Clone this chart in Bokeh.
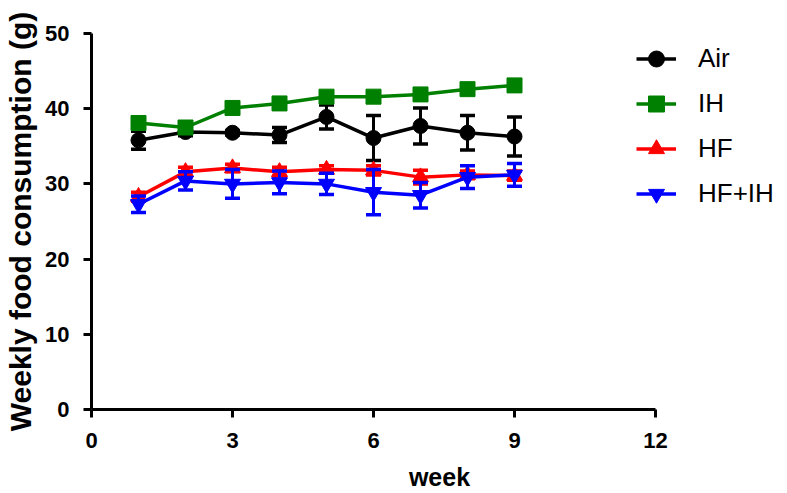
from bokeh.plotting import figure
from bokeh.models import ColumnDataSource, Legend, LegendItem, Range1d, FixedTicker
from bokeh.embed import file_html
from bokeh.resources import INLINE

weeks = [1, 2, 3, 4, 5, 6, 7, 8, 9]
air = [35.8, 36.9, 36.8, 36.5, 38.9, 36.1, 37.7, 36.8, 36.3]
air_err = [1.2, 0.5, 0.3, 1.0, 1.6, 3.0, 2.4, 2.3, 2.6]
ih = [38.1, 37.5, 40.1, 40.7, 41.6, 41.6, 41.9, 42.6, 43.1]
ih_err = [0.5, 0.6, 0.6, 0.5, 0.6, 0.5, 0.5, 0.5, 0.4]
hf = [28.3, 31.6, 32.1, 31.6, 31.9, 31.8, 30.9, 31.2, 31.1]
hf_err = [0.6, 0.6, 0.5, 0.6, 0.5, 0.6, 0.9, 0.5, 0.6]
hfih = [27.3, 30.4, 30.0, 30.2, 30.0, 28.9, 28.5, 30.9, 31.2]
hfih_err = [1.1, 1.2, 1.9, 1.5, 1.4, 3.0, 1.7, 1.5, 1.5]

series_names = ["Air", "IH", "HF", "HF+IH"]
series_vals = [air, ih, hf, hfih]
series_errs = [air_err, ih_err, hf_err, hfih_err]
series_colors = ["#000000", "#008000", "#FF0000", "#0000FF"]
series_markers = ["circle", "square", "triangle", "inverted_triangle"]
series_sizes = [15, 15, 16, 16]

x_ticks = [0, 3, 6, 9, 12]
y_ticks = [0, 10, 20, 30, 40, 50]

FONT = "Liberation Sans"

# frame spans 91..787 px horizontally; axis drawn only over 0..12 (47 px per week)
p = figure(width=787, height=493, output_backend="svg", toolbar_location=None,
           x_range=Range1d(0, 696 / 47.0), y_range=Range1d(0, 50),
           min_border_left=91, min_border_top=33, min_border_right=0, min_border_bottom=84)
p.outline_line_color = None
p.xgrid.grid_line_color = None
p.ygrid.grid_line_color = None

for ax in (p.xaxis[0], p.yaxis[0]):
    ax.axis_line_width = 3
    ax.axis_line_color = "black"
    ax.major_tick_line_width = 3
    ax.major_tick_out = 8
    ax.major_tick_in = 0
    ax.minor_tick_line_color = None
    ax.major_label_text_font = FONT
    ax.major_label_text_font_style = "bold"
    ax.major_label_text_font_size = "22px"
    ax.major_label_text_color = "black"
    ax.axis_label_text_font = FONT
    ax.axis_label_text_font_style = "bold"
    ax.axis_label_text_color = "black"

p.xaxis[0].ticker = FixedTicker(ticks=x_ticks)
p.xaxis[0].bounds = (0, 12)
p.yaxis[0].ticker = FixedTicker(ticks=y_ticks)
p.xaxis[0].axis_label = "week"
p.xaxis[0].axis_label_text_font_size = "25px"
p.xaxis[0].major_label_standoff = 15
p.xaxis[0].axis_label_standoff = 12
p.yaxis[0].axis_label = "Weekly food consumption (g)"
p.yaxis[0].axis_label_text_font_size = "30px"
p.yaxis[0].major_label_standoff = 14
p.yaxis[0].axis_label_standoff = 5

items = []
for name, vals, errs, col, mk, sz in zip(series_names, series_vals, series_errs,
                                          series_colors, series_markers, series_sizes):
    lo = [v - e for v, e in zip(vals, errs)]
    hi = [v + e for v, e in zip(vals, errs)]
    src = ColumnDataSource(dict(x=weeks, y=vals, lo=lo, hi=hi))
    p.segment(x0="x", y0="lo", x1="x", y1="hi", source=src, line_color=col, line_width=3)
    p.scatter(x="x", y="lo", source=src, marker="dash", size=15, line_color=col, line_width=3.5)
    p.scatter(x="x", y="hi", source=src, marker="dash", size=15, line_color=col, line_width=3.5)
    r_line = p.line(x="x", y="y", source=src, line_color=col, line_width=3.5)
    r_mark = p.scatter(x="x", y="y", source=src, marker=mk, size=sz, fill_color=col, line_color=col)
    items.append(LegendItem(label=name, renderers=[r_line, r_mark]))

legend = Legend(items=items, location=(545, 193), orientation="vertical",
                glyph_width=40, glyph_height=45, spacing=0, padding=0, margin=0,
                label_standoff=22, label_text_font=FONT, label_text_font_size="26px",
                label_text_color="black", border_line_color=None, background_fill_alpha=0)
p.add_layout(legend)

open("out.html", "w").write(file_html(p, INLINE))
